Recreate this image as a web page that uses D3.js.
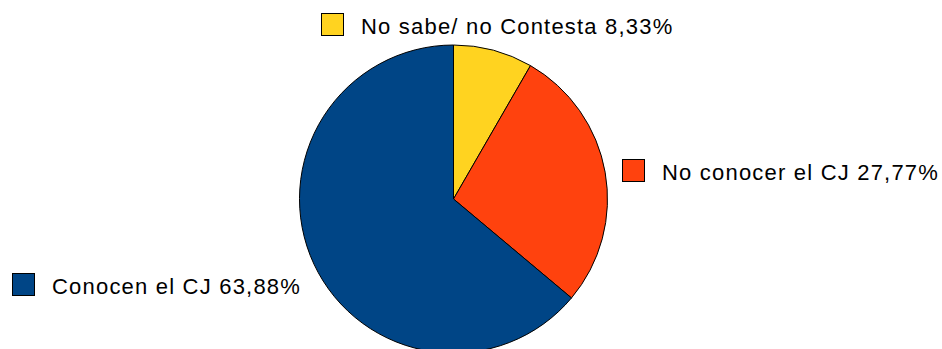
<!DOCTYPE html>
<html><head><meta charset="utf-8">
<script src="https://cdn.jsdelivr.net/npm/d3@7"></script>
<style>body{margin:0;background:#fff;}svg{display:block;}</style>
</head><body>
<script>
const categories = ["No sabe/ no Contesta", "No conocer el CJ", "Conocen el CJ"];
const values = [8.33, 27.77, 63.88];
const labels = ["No sabe/ no Contesta 8,33%", "No conocer el CJ 27,77%", "Conocen el CJ 63,88%"];
const colors = ["#FFD320", "#FF420E", "#004586"];

const W = 942, H = 349;
const svg = d3.select("body").append("svg").attr("width", W).attr("height", H);
const cx = 453.5, cy = 199, r = 154;

const pie = d3.pie().sort(null).value(d => d)(values);
const arc = d3.arc().innerRadius(0).outerRadius(r);
svg.append("g").attr("transform", `translate(${cx},${cy})`)
  .selectAll("path").data(pie).join("path")
  .attr("d", arc).attr("fill", (d, i) => colors[i])
  .attr("stroke", "#000").attr("stroke-width", 1).attr("stroke-linejoin", "round");

const legendPos = [[321, 13], [622, 159], [12, 273]];
const lg = svg.append("g").selectAll("g").data(categories).join("g")
  .attr("transform", (d, i) => `translate(${legendPos[i][0]},${legendPos[i][1]})`);
lg.append("rect").attr("x", 0.5).attr("y", 0.5).attr("width", 22).attr("height", 22)
  .attr("fill", (d, i) => colors[i]).attr("stroke", "#000").attr("stroke-width", 1);
lg.append("text").attr("x", 40).attr("y", 20.5)
  .attr("font-family", "Liberation Sans, Arial, sans-serif").attr("font-size", 22)
  .attr("letter-spacing", 1.2)
  .attr("fill", "#000").text((d, i) => labels[i]);
</script>
</body></html>
